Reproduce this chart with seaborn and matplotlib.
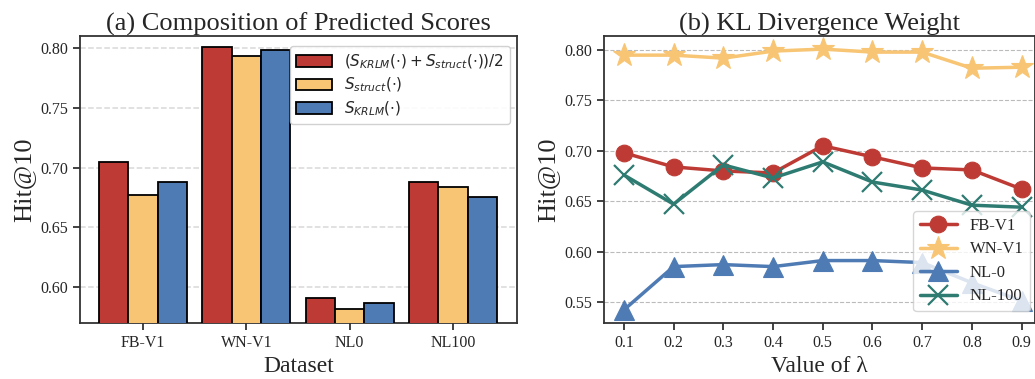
import pandas as pd
import numpy as np
import matplotlib
matplotlib.use("Agg")
import matplotlib.pyplot as plt
import seaborn as sns

# --- data ---
datasets = ["FB-V1", "WN-V1", "NL0", "NL100"]
methods = [r"$(S_{KRLM}(\cdot) + S_{struct}(\cdot))/2$",
           r"$S_{struct}(\cdot)$",
           r"$S_{KRLM}(\cdot)$"]
combined = [0.705, 0.801, 0.591, 0.688]
struct_only = [0.677, 0.793, 0.582, 0.684]
krlm_only = [0.688, 0.798, 0.587, 0.675]

lambdas = [0.1, 0.2, 0.3, 0.4, 0.5, 0.6, 0.7, 0.8, 0.9]
fb_v1 = [0.698, 0.684, 0.680, 0.678, 0.705, 0.694, 0.683, 0.681, 0.662]
wn_v1 = [0.795, 0.795, 0.792, 0.799, 0.801, 0.798, 0.798, 0.782, 0.783]
nl_0 = [0.542, 0.585, 0.587, 0.585, 0.591, 0.591, 0.589, 0.569, 0.551]
nl_100 = [0.676, 0.647, 0.686, 0.673, 0.689, 0.669, 0.661, 0.646, 0.644]

red, yellow, blue, teal = "#BD3B34", "#F8C574", "#4F7BB4", "#2E7B72"

sns.set_theme(style="ticks")
plt.rcParams["font.family"] = ["Liberation Serif", "DejaVu Serif"]
plt.rcParams["mathtext.fontset"] = "dejavusans"
plt.rcParams["axes.edgecolor"] = "#333333"
plt.rcParams["axes.linewidth"] = 1.3

fig = plt.figure(figsize=(10.35, 3.79), dpi=100)
ax1 = fig.add_axes([80 / 1035, 1 - 323 / 379, 437 / 1035, 287 / 379])
ax2 = fig.add_axes([604 / 1035, 1 - 323 / 379, 431 / 1035, 287 / 379])

# --- (a) bar chart ---
bar_df = pd.DataFrame({
    "Dataset": datasets * 3,
    "Hit@10": combined + struct_only + krlm_only,
    "Method": [methods[0]] * 4 + [methods[1]] * 4 + [methods[2]] * 4,
})
sns.barplot(data=bar_df, x="Dataset", y="Hit@10", hue="Method", ax=ax1,
            palette=[red, yellow, blue], edgecolor="black", linewidth=1.3,
            width=0.85, saturation=1, zorder=3)
ax1.set_ylim(0.57, 0.81)
ax1.set_xlim(-0.61, 3.62)
ax1.set_yticks([0.60, 0.65, 0.70, 0.75, 0.80])
ax1.yaxis.grid(True, linestyle="--", color="#d9d9d9", linewidth=1.1, zorder=0)
ax1.set_axisbelow(True)
ax1.set_title("(a) Composition of Predicted Scores", fontsize=19, pad=4)
ax1.set_xlabel("Dataset", fontsize=17)
ax1.set_ylabel("Hit@10", fontsize=19)
ax1.tick_params(labelsize=11.5, length=5, width=1.3, color="#333333")
leg1 = ax1.legend(loc="upper right", fontsize=11, frameon=True, fancybox=True,
                  framealpha=0.9, edgecolor="#cccccc", handlelength=2.3,
                  handleheight=0.8, borderpad=0.4, labelspacing=0.35,
                  borderaxespad=0.2, bbox_to_anchor=(0.99, 0.975))
leg1.set_zorder(10)
for h in leg1.legend_handles:
    h.set_edgecolor("black")
    h.set_linewidth(1.3)

# --- (b) line chart ---
series = [
    ("FB-V1", fb_v1, red, "o", 12),
    ("WN-V1", wn_v1, yellow, "*", 17),
    ("NL-0", nl_0, blue, "^", 15),
    ("NL-100", nl_100, teal, "x", 14),
]
for name, vals, col, mk, ms in series:
    sns.lineplot(x=lambdas, y=vals, ax=ax2, color=col, marker=mk, markersize=ms,
                 linewidth=2.5, label=name, markeredgecolor=col,
                 markeredgewidth=1.6 if mk == "x" else 0.8)
ax2.set_xlim(0.06, 0.927)
ax2.set_ylim(0.529, 0.814)
ax2.set_xticks(lambdas)
ax2.set_xticklabels([f"{v:.1f}" for v in lambdas])
ax2.set_yticks([0.55, 0.60, 0.65, 0.70, 0.75, 0.80])
ax2.yaxis.grid(True, linestyle="--", color="#bbbbbb", linewidth=0.8)
ax2.set_axisbelow(True)
ax2.set_title("(b) KL Divergence Weight", fontsize=19, pad=4)
ax2.set_xlabel("Value of λ", fontsize=17)
ax2.set_ylabel("Hit@10", fontsize=19)
ax2.tick_params(labelsize=11.5, length=5, width=1.3, color="#333333")
ax2.legend(loc="lower right", fontsize=12, frameon=True, fancybox=True,
           framealpha=0.8, edgecolor="#cccccc", handlelength=2.2,
           borderpad=0.4, labelspacing=0.45, handletextpad=0.8,
           borderaxespad=0.2, bbox_to_anchor=(0.997, 0.03))

fig.savefig("out.png", dpi=100)
